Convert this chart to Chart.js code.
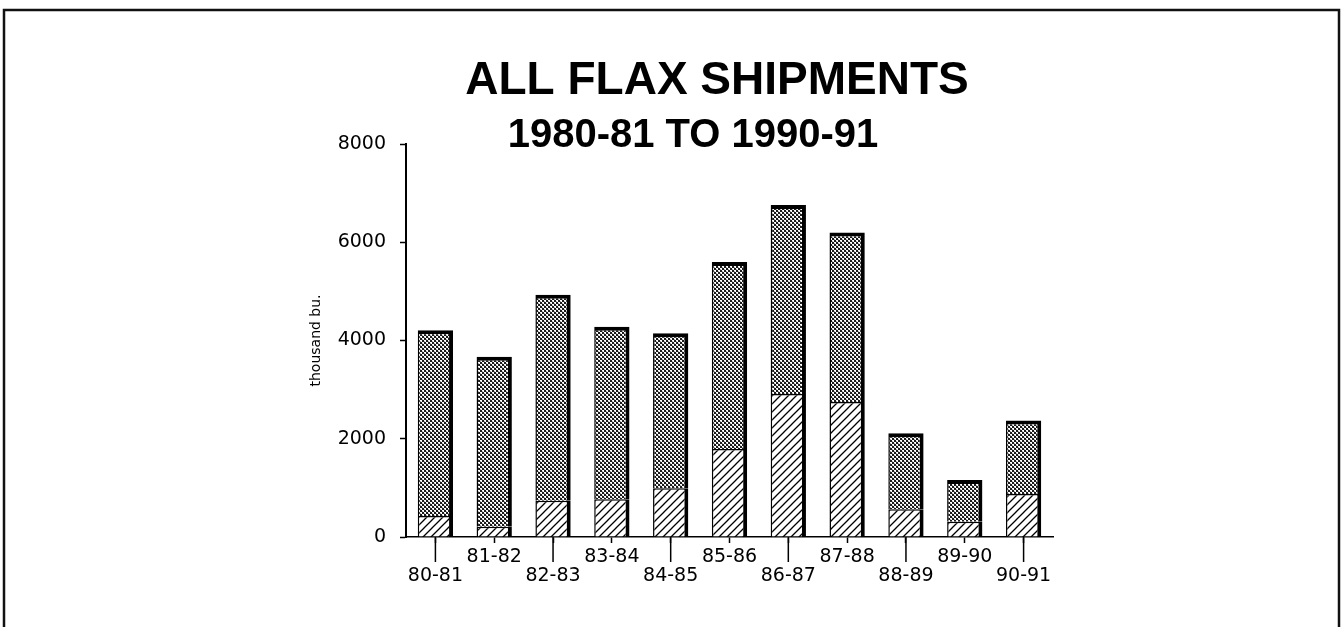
<!DOCTYPE html>
<html><head><meta charset="utf-8">
<script src="https://cdn.jsdelivr.net/npm/chart.js@4.4.1/dist/chart.umd.min.js"></script>
<style>html,body{margin:0;padding:0;background:#fff;overflow:hidden}#wrap{width:1344px;height:627px}</style>
</head><body><div id="wrap"><canvas id="c" width="1344" height="627"></canvas></div>
<script>
// ---- data ----
const categories = ['80-81','81-82','82-83','83-84','84-85','85-86','86-87','87-88','88-89','89-90','90-91'];
const hatchedValues  = [430, 210, 740, 770, 990, 1790, 2910, 2750, 565, 312, 875];
const stippledValues = [3780, 3460, 4190, 3510, 3160, 3810, 3850, 3450, 1545, 848, 1495];
const yTickValues = [0, 2000, 4000, 6000, 8000];
const titleText = 'ALL FLAX SHIPMENTS';
const subtitleText = '1980-81 TO 1990-91';
const yAxisTitle = 'thousand bu.';

// ---- patterns ----
function makeHatch(){
  const c=document.createElement('canvas');c.width=8;c.height=8;
  const g=c.getContext('2d');
  g.fillStyle='#fff';g.fillRect(0,0,8,8);
  g.strokeStyle='#000';g.lineWidth=1.3;
  g.beginPath();
  g.moveTo(-1,9);g.lineTo(9,-1);
  g.moveTo(-1,1);g.lineTo(1,-1);
  g.moveTo(7,9);g.lineTo(9,7);
  g.stroke();
  return g.createPattern(c,'repeat');
}
function makeStipple(){
  const c=document.createElement('canvas');c.width=4;c.height=4;
  const g=c.getContext('2d');
  g.fillStyle='#1a1a1a';g.fillRect(0,0,4,4);
  g.fillStyle='#fff';
  g.fillRect(0,0,2,1);g.fillRect(2,2,2,1);
  g.fillRect(1,1,1,1);g.fillRect(3,3,1,1);
  g.fillStyle='#aaa';
  g.fillRect(0,1,1,1);g.fillRect(2,3,1,1);
  return g.createPattern(c,'repeat');
}
const ctx=document.getElementById('c').getContext('2d');
const hatch=makeHatch();
const stipple=makeStipple();

const framePlugin={id:'frame',beforeDraw(chart){
  const g=chart.ctx;g.save();
  g.fillStyle='#fff';g.fillRect(0,0,chart.width,chart.height);
  g.strokeStyle='#111';g.lineWidth=2.5;
  g.strokeRect(4,10,1335,700);
  g.restore();
}};
const titlePlugin={id:'titles',afterDraw(chart){
  const g=chart.ctx;g.save();
  g.fillStyle='#000';g.textAlign='center';g.textBaseline='alphabetic';
  g.font='bold 46px "Liberation Sans", Arial, sans-serif';
  g.fillText(titleText,717,94);
  g.font='bold 40px "Liberation Sans", Arial, sans-serif';
  g.fillText(subtitleText,693,147);
  g.restore();
}};
const longTickPlugin={id:'longTicks',afterDraw(chart){
  const xs=chart.scales.x,g=chart.ctx;g.save();
  g.strokeStyle='#000';g.lineWidth=1.5;
  categories.forEach((c,i)=>{
    if(i%2===0){
      const px=xs.getPixelForTick(i);
      g.beginPath();g.moveTo(px,xs.top);g.lineTo(px,xs.top+25);g.stroke();
    }
  });
  g.restore();
}};

new Chart(ctx,{
  type:'bar',
  data:{labels:categories,datasets:[
    {label:'hatched',data:hatchedValues,backgroundColor:hatch,borderColor:'#000',
     borderWidth:{left:1.5,right:4,top:1.5,bottom:0},borderSkipped:false,
     barPercentage:0.6,categoryPercentage:1},
    {label:'stippled',data:stippledValues,backgroundColor:stipple,borderColor:'#000',
     borderWidth:{left:1.5,right:4,top:4,bottom:0},borderSkipped:false,
     barPercentage:0.6,categoryPercentage:1}
  ]},
  options:{
    responsive:false,animation:false,devicePixelRatio:1,
    layout:{padding:{left:296,right:291,top:144,bottom:0}},
    plugins:{legend:{display:false},title:{display:false},tooltip:{enabled:false}},
    scales:{
      x:{stacked:true,
        grid:{offset:false,drawOnChartArea:false,drawTicks:true,tickLength:6,tickWidth:1.5,tickColor:'#000'},
        border:{display:true,color:'#000',width:1.5},
        ticks:{color:'#000',font:{family:'DejaVu Sans',size:19,lineHeight:1},padding:5,maxRotation:0,minRotation:0,autoSkip:false,
          callback:(v,i)=> i%2===0 ? ['',categories[i]] : categories[i]},
        afterFit:s=>{s.height=90;}
      },
      y:{stacked:true,min:0,max:8000,
        afterBuildTicks:s=>{s.ticks=yTickValues.map(v=>({value:v}));},
        ticks:{color:'#000',font:{family:'DejaVu Sans',size:19},padding:14,callback:v=>String(v)},
        grid:{drawOnChartArea:false,tickLength:6,tickWidth:1.5,tickColor:'#000'},
        border:{color:'#000',width:2},
        title:{display:true,text:yAxisTitle,color:'#000',font:{family:'DejaVu Sans',size:14},padding:{top:12,bottom:0}},
        afterFit:s=>{s.width=110;}
      }
    }
  },
  plugins:[framePlugin,titlePlugin,longTickPlugin]
});
</script></body></html>
